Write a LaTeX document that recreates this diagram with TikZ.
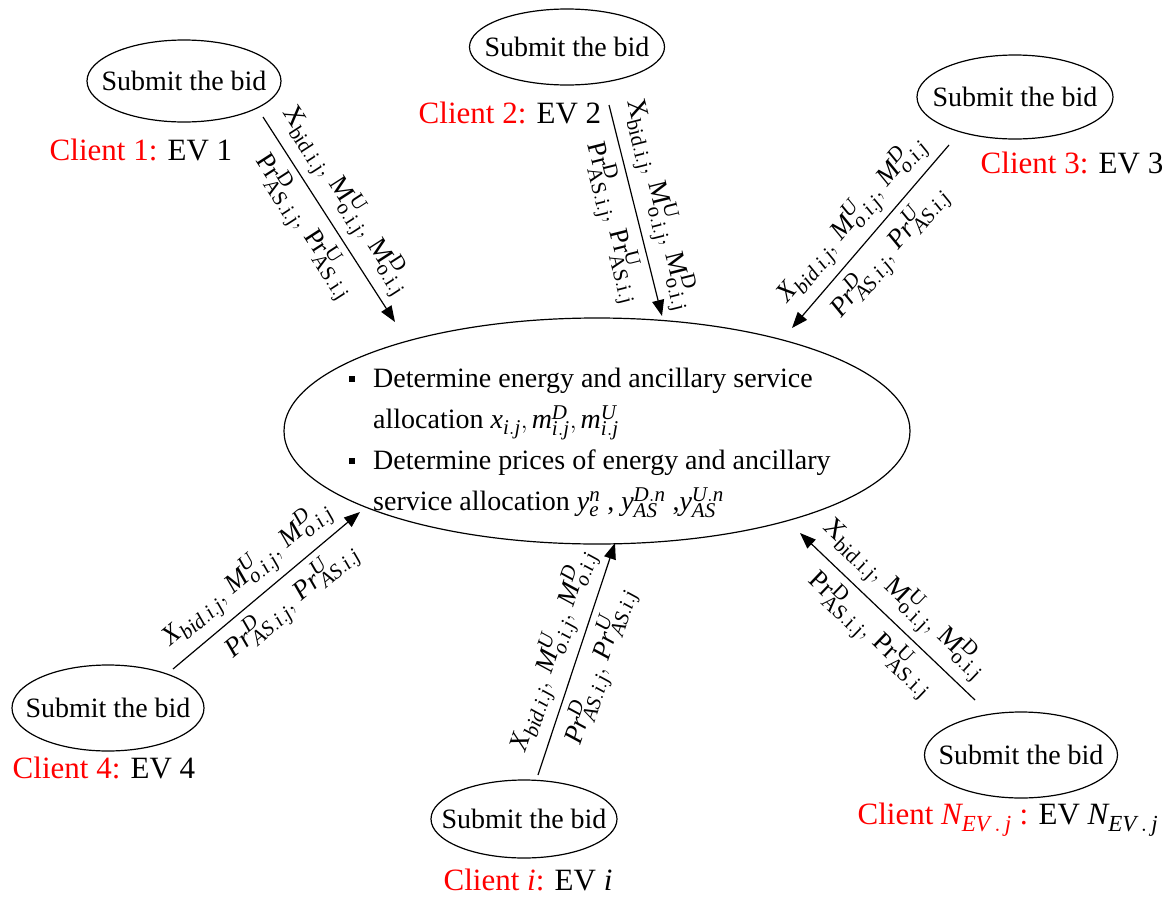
\documentclass[tikz,border=0pt]{standalone}
\usepackage{fontspec}
\setmainfont{Liberation Serif}
\usetikzlibrary{arrows.meta,shapes.geometric}
\DeclareMathSizes{27}{27}{21}{15}
\DeclareMathSizes{28}{28}{21}{16}
\DeclareMathSizes{31}{31}{23}{17}
\newcommand{\mi}[1]{\mathit{#1}}
\newcommand{\lblXi}{$\mi{X}_{\mi{bid.i.j}},\, \mi{M}^{\mi{U}}_{\mi{o.i.j}},\, \mi{M}^{\mi{D}}_{\mi{o.i.j}}$}
\newcommand{\lblPi}{$\mi{Pr}^{\mi{D}}_{\mi{AS.i.j}},\, \mi{Pr}^{\mi{U}}_{\mi{AS.i.j}}$}
\newcommand{\lblXr}{$\mathrm{X_{bid.i.j},\, M^{U}_{o.i.j},\, M^{D}_{o.i.j}}$}
\newcommand{\lblPr}{$\mathrm{Pr^{D}_{AS.i.j},\, Pr^{U}_{AS.i.j}}$}
\newcommand{\sqbul}{\makebox[24pt][l]{\raisebox{6pt}{\rule{6pt}{6pt}}}}
\begin{document}
\begin{tikzpicture}[x=1pt,y=-1pt,
  bid/.style={ellipse, draw, line width=1.2pt, inner sep=0pt},
  btext/.style={font=\fontsize{28}{30}\selectfont, inner sep=0pt},
  cl/.style={inner sep=0pt, font=\fontsize{31}{34}\selectfont},
  arr/.style={line width=1.2pt, -{Triangle[length=16pt,width=12pt]}},
  lab/.style={sloped, inner sep=7pt, font=\fontsize{27}{29}\selectfont}
]
\useasboundingbox (0,0) rectangle (1176,897);

% bid ellipses
\node[bid, minimum width=194pt, minimum height=82pt, label={[btext]center:Submit the bid}] (e1) at (184,81) {};
\node[bid, minimum width=195pt, minimum height=76pt, label={[btext]center:Submit the bid}] (e2) at (567,47) {};
\node[bid, minimum width=196pt, minimum height=84pt, label={[btext]center:Submit the bid}] (e3) at (1015,97) {};
\node[bid, minimum width=192pt, minimum height=86pt, label={[btext]center:Submit the bid}] (e4) at (108,708) {};
\node[bid, minimum width=186pt, minimum height=78pt, label={[btext]center:Submit the bid}] (e5) at (524,819) {};
\node[bid, minimum width=193pt, minimum height=86pt, label={[btext]center:Submit the bid}] (e6) at (1021,755) {};

% central ellipse
\node[bid, minimum width=626pt, minimum height=226pt] (c) at (597,431) {};
\node[anchor=west, align=left, inner sep=0pt, font=\fontsize{28}{41}\selectfont] (ct) at (349,443)
 {\sqbul Determine energy and ancillary service\\
  \hspace*{24pt}allocation $\mi{x}_{\mi{i.j}}, \mi{m}^{\mi{D}}_{\mi{i.j}}, \mi{m}^{\mi{U}}_{\mi{i.j}}$\\
  \sqbul Determine prices of energy and ancillary\\
  \hspace*{24pt}service allocation $\mi{y}^{\mi{n}}_{\mi{e}}$ , $\mi{y}^{\mi{D.n}}_{\mi{AS}}$ ,$\mi{y}^{\mi{U.n}}_{\mi{AS}}$};

% client labels
\node[cl] (l1) at (141,150) {\textcolor{red}{Client 1:} EV 1};
\node[cl] (l2) at (510,113) {\textcolor{red}{Client 2:} EV 2};
\node[cl] (l3) at (1072,163) {\textcolor{red}{Client 3:} EV 3};
\node[cl] (l4) at (104,768) {\textcolor{red}{Client 4:} EV 4};
\node[cl] (l5) at (528,880) {\textcolor{red}{Client $\mi{i}$:} EV $\mi{i}$};
\node[cl] (l6) at (1008,820) {\textcolor{red}{Client $\mi{N}_{\mi{EV\,.\,j}}$ :} EV $\mi{N}_{\mi{EV\,.\,j}}$};

% arrow end points
\coordinate (a1s) at (263,117); \coordinate (a1t) at (395,322);
\coordinate (a2s) at (609,105); \coordinate (a2t) at (662,316);
\coordinate (a3s) at (949,145); \coordinate (a3t) at (792,328);
\coordinate (a4s) at (173,669); \coordinate (a4t) at (360,512);
\coordinate (a5s) at (538,775); \coordinate (a5t) at (615,543);
\coordinate (a6s) at (975,700); \coordinate (a6t) at (800,533);

\draw[arr] (a1s) -- (a1t)
  node[lab, pos=0.47, above] {\lblXr}
  node[lab, pos=0.47, below] {\lblPr};
\draw[arr] (a2s) -- (a2t)
  node[lab, pos=0.5, above] {\lblXr}
  node[lab, pos=0.53, below] {\lblPr};
\draw[arr] (a3s) -- (a3t)
  node[lab, midway, above] {\lblXi}
  node[lab, midway, below] {\lblPi};
\draw[arr] (a4s) -- (a4t)
  node[lab, pos=0.48, above] {\lblXi}
  node[lab, pos=0.55, below] {\lblPi};
\draw[arr] (a5s) -- (a5t)
  node[lab, midway, above] {\lblXi}
  node[lab, midway, below] {\lblPi};
\draw[arr] (a6s) -- (a6t)
  node[lab, midway, above] {\lblXr}
  node[lab, midway, below] {\lblPr};
\end{tikzpicture}
\end{document}
